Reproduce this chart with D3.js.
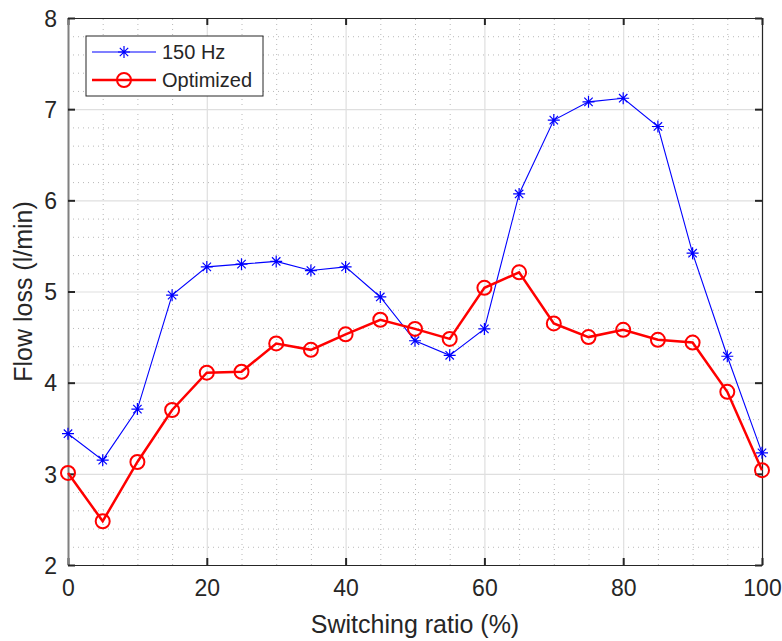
<!DOCTYPE html>
<html>
<head>
<meta charset="utf-8">
<script src="https://cdn.jsdelivr.net/npm/d3@7"></script>
<style>
  body { margin: 0; background: #fff; }
  text { font-family: "Liberation Sans", Arial, sans-serif; fill: #262626; }
</style>
</head>
<body>
<svg id="grafico"></svg>
<script>
// dados
let razao = [0, 5, 10, 15, 20, 25, 30, 35, 40, 45, 50, 55, 60, 65, 70, 75, 80, 85, 90, 95, 100]
let hz150 = [3.44, 3.15, 3.71, 4.96, 5.27, 5.30, 5.33, 5.23, 5.27, 4.94, 4.46, 4.30, 4.59, 6.07, 6.88, 7.08, 7.12, 6.81, 5.42, 4.29, 3.23]
let otimizado = [3.01, 2.48, 3.13, 3.70, 4.11, 4.12, 4.43, 4.36, 4.53, 4.69, 4.59, 4.48, 5.04, 5.21, 4.65, 4.50, 4.58, 4.47, 4.44, 3.90, 3.04]
let ticksX = [0, 20, 40, 60, 80, 100]
let ticksY = [2, 3, 4, 5, 6, 7, 8]
let series = [
  {nome: '150 Hz', valores: hz150, cor: '#0000ff', marcador: 'asterisco'},
  {nome: 'Optimized', valores: otimizado, cor: '#ff0000', marcador: 'circulo'}
]

let largura = 782, altura = 641
let margens = {esquerda: 68, direita: 20, superior: 18, inferior: 76}
let larguraPlot = largura - margens.esquerda - margens.direita
let alturaPlot = altura - margens.superior - margens.inferior

let svg = d3.select('#grafico')
  .attr('width', largura)
  .attr('height', altura)

let plot = svg.append('g')
  .attr('transform', 'translate(' + margens.esquerda + ',' + margens.superior + ')')

let fnX = d3.scaleLinear().domain([0, 100]).range([0, larguraPlot])
let fnY = d3.scaleLinear().domain([2, 8]).range([alturaPlot, 0])

// grade menor (pontilhada)
let menorX = d3.range(0, 101, 5).filter(d => d % 20 != 0)
let menorY = d3.range(20, 81, 2).map(d => d / 10).filter(d => Math.abs(d - Math.round(d)) > 0.01)

plot.append('g').call(d3.axisBottom(fnX).tickValues(menorX).tickSize(-alturaPlot).tickFormat(''))
  .attr('transform', 'translate(0,' + alturaPlot + ')')
  .call(g => g.select('.domain').remove())
  .selectAll('line').attr('stroke', '#b8b8b8').attr('stroke-dasharray', '1,4').attr('stroke-width', 1)

plot.append('g').call(d3.axisLeft(fnY).tickValues(menorY).tickSize(-larguraPlot).tickFormat(''))
  .call(g => g.select('.domain').remove())
  .selectAll('line').attr('stroke', '#b8b8b8').attr('stroke-dasharray', '1,4').attr('stroke-width', 1)

// grade maior
plot.append('g').call(d3.axisBottom(fnX).tickValues(ticksX).tickSize(-alturaPlot).tickFormat(''))
  .attr('transform', 'translate(0,' + alturaPlot + ')')
  .call(g => g.select('.domain').remove())
  .selectAll('line').attr('stroke', '#dfdfdf').attr('stroke-width', 1.2)

plot.append('g').call(d3.axisLeft(fnY).tickValues(ticksY).tickSize(-larguraPlot).tickFormat(''))
  .call(g => g.select('.domain').remove())
  .selectAll('line').attr('stroke', '#dfdfdf').attr('stroke-width', 1.2)

// eixos (ticks para dentro, nos quatro lados)
let tam = 7
let fmt = d3.format('d')
let eixoX = plot.append('g').attr('transform', 'translate(0,' + alturaPlot + ')')
  .call(d3.axisBottom(fnX).tickValues(ticksX).tickFormat(fmt).tickSizeInner(-tam).tickSizeOuter(0).tickPadding(14))
let eixoXtopo = plot.append('g')
  .call(d3.axisTop(fnX).tickValues(ticksX).tickSizeInner(-tam).tickSizeOuter(0).tickFormat(''))
let eixoY = plot.append('g')
  .call(d3.axisLeft(fnY).tickValues(ticksY).tickFormat(fmt).tickSizeInner(-tam).tickSizeOuter(0).tickPadding(11))
let eixoYdir = plot.append('g').attr('transform', 'translate(' + larguraPlot + ',0)')
  .call(d3.axisRight(fnY).tickValues(ticksY).tickSizeInner(-tam).tickSizeOuter(0).tickFormat(''))

;[eixoX, eixoXtopo, eixoY, eixoYdir].forEach(e => {
  e.select('.domain').attr('stroke', '#262626').attr('stroke-width', 1.2)
  e.selectAll('.tick line').attr('stroke', '#262626').attr('stroke-width', 2)
  e.selectAll('.tick text').style('font-size', '23px').attr('fill', '#262626')
    .style('font-family', '"Liberation Sans", Arial, sans-serif')
})
eixoY.select('.domain').attr('stroke', '#808080').attr('stroke-width', 2)
eixoX.selectAll('.tick text').attr('dy', '0.72em')
eixoY.selectAll('.tick text').attr('dy', '0.36em')

// linhas e marcadores
let linha = d3.line()
  .x((d, i) => fnX(razao[i]))
  .y(d => fnY(d))

function desenhaMarcador(g, tipo, cor, x, y) {
  if (tipo == 'circulo') {
    g.append('circle').attr('cx', x).attr('cy', y).attr('r', 7)
      .attr('fill', 'none').attr('stroke', cor).attr('stroke-width', 2)
  } else {
    let r = 6
    let caminho = 'M' + (x - r) + ',' + y + 'L' + (x + r) + ',' + y +
      'M' + x + ',' + (y - r) + 'L' + x + ',' + (y + r) +
      'M' + (x - r * 0.7) + ',' + (y - r * 0.7) + 'L' + (x + r * 0.7) + ',' + (y + r * 0.7) +
      'M' + (x - r * 0.7) + ',' + (y + r * 0.7) + 'L' + (x + r * 0.7) + ',' + (y - r * 0.7)
    g.append('path').attr('d', caminho).attr('stroke', cor).attr('stroke-width', 1.2).attr('fill', 'none')
  }
}

series.forEach(s => {
  plot.append('path')
    .datum(s.valores)
    .attr('d', linha)
    .attr('fill', 'none')
    .attr('stroke', s.cor)
    .attr('stroke-width', s.marcador == 'circulo' ? 2.5 : 1.1)
  let gm = plot.append('g')
  s.valores.forEach((v, i) => desenhaMarcador(gm, s.marcador, s.cor, fnX(razao[i]), fnY(v)))
})

// legenda
let leg = svg.append('g').attr('transform', 'translate(86,36)')
leg.append('rect').attr('width', 177).attr('height', 60)
  .attr('fill', '#fff').attr('stroke', '#262626').attr('stroke-width', 1)
series.forEach((s, i) => {
  let y = 16 + i * 28
  leg.append('line').attr('x1', 6).attr('x2', 70).attr('y1', y).attr('y2', y)
    .attr('stroke', s.cor).attr('stroke-width', s.marcador == 'circulo' ? 2.5 : 1.1)
  desenhaMarcador(leg, s.marcador, s.cor, 38, y)
  leg.append('text').attr('x', 76).attr('y', y).attr('dy', '0.36em')
    .style('font-size', '20px').attr('fill', '#000').text(s.nome)
})

// titulos dos eixos
svg.append('text')
  .attr('x', margens.esquerda + larguraPlot / 2)
  .attr('y', 633)
  .attr('text-anchor', 'middle')
  .style('font-size', '25px')
  .text('Switching ratio (%)')

svg.append('text')
  .attr('transform', 'translate(32,' + (margens.superior + alturaPlot / 2) + ') rotate(-90)')
  .attr('text-anchor', 'middle')
  .style('font-size', '25px')
  .text('Flow loss (l/min)')
</script>
</body>
</html>
